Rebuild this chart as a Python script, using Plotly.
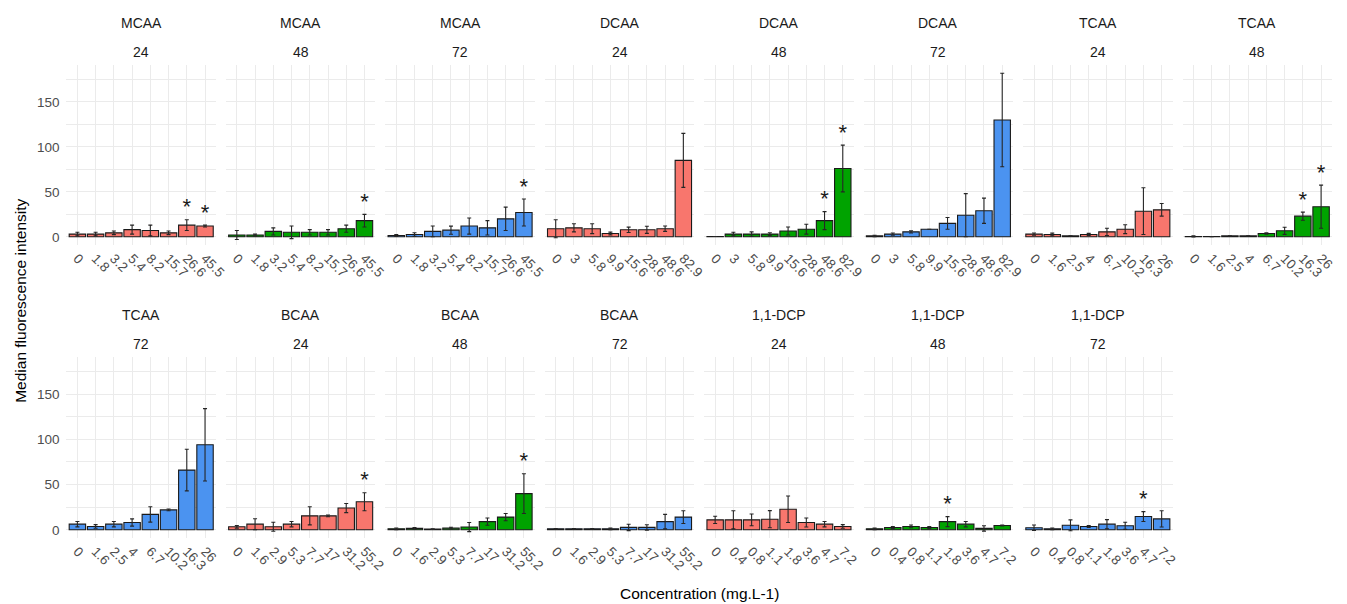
import plotly.graph_objects as go

# Concentration levels (mg.L-1) tested for each compound
MCAA_CONC = ["0", "1.8", "3.2", "5.4", "8.2", "15.7", "26.6", "45.5"]
DCAA_CONC = ["0", "3", "5.8", "9.9", "15.6", "28.6", "48.6", "82.9"]
TCAA_CONC = ["0", "1.6", "2.5", "4", "6.7", "10.2", "16.3", "26"]
BCAA_CONC = ["0", "1.6", "2.9", "5.3", "7.7", "17", "31.2", "55.2"]
DCP_CONC = ["0", "0.4", "0.8", "1.1", "1.8", "3.6", "4.7", "7.2"]

# Median fluorescence intensity, error half-width and significance flags
MCAA_24 = [3, 3, 4.4, 8, 7, 4.4, 13, 12]
MCAA_24_ERR = [2, 2, 2, 5, 6, 2, 6, 1]
MCAA_24_SIG = [0, 0, 0, 0, 0, 0, 1, 1]
MCAA_48 = [2, 2, 6, 5, 5, 5, 9, 18]
MCAA_48_ERR = [5, 1, 4, 7, 3, 3, 4, 7]
MCAA_48_SIG = [0, 0, 0, 0, 0, 0, 0, 1]
MCAA_72 = [1.5, 2.6, 6, 7.4, 12, 10, 20, 27]
MCAA_72_ERR = [1, 2, 6, 4.5, 9, 8, 13, 15]
MCAA_72_SIG = [0, 0, 0, 0, 0, 0, 0, 1]

DCAA_24 = [9, 10, 9, 3.7, 7.8, 7.8, 9, 85]
DCAA_24_ERR = [10, 4.5, 5.5, 1.5, 3, 4, 3, 30]
DCAA_24_SIG = [0, 0, 0, 0, 0, 0, 0, 0]
DCAA_48 = [0.3, 3, 3, 3, 6.5, 8.5, 18, 76]
DCAA_48_ERR = [0, 2, 2.5, 1.5, 4.5, 5.5, 10, 26]
DCAA_48_SIG = [0, 0, 0, 0, 0, 0, 1, 1]
DCAA_72 = [1, 3, 5.5, 8.5, 15, 24, 29, 130]
DCAA_72_ERR = [0.8, 1.2, 1.2, 0, 6.5, 24, 14, 52]
DCAA_72_SIG = [0, 0, 0, 0, 0, 0, 0, 1]

TCAA_24 = [3, 2.6, 1, 2.6, 5.5, 8.5, 28.5, 30]
TCAA_24_ERR = [1.2, 1.5, 0, 1.2, 4, 5, 26, 7]
TCAA_24_SIG = [0, 0, 0, 0, 0, 0, 0, 0]
TCAA_48 = [0.4, 0.2, 1, 1, 3.7, 6.7, 23, 33.5]
TCAA_48_ERR = [0.6, 0, 0, 0, 0.8, 4, 4.5, 24]
TCAA_48_SIG = [0, 0, 0, 0, 0, 0, 1, 1]
TCAA_72 = [6.2, 3.7, 6.2, 8, 17, 22, 66, 94]
TCAA_72_ERR = [3, 2, 3, 4, 8.5, 1, 23, 40]
TCAA_72_SIG = [0, 0, 0, 0, 0, 0, 0, 0]

BCAA_24 = [3.3, 6.2, 3.3, 6.2, 15.4, 15.4, 24, 31]
BCAA_24_ERR = [1.5, 6, 5, 3, 10, 1, 5, 10]
BCAA_24_SIG = [0, 0, 0, 0, 0, 0, 0, 1]
BCAA_48 = [1, 1.5, 0.7, 1.8, 3, 9, 14, 40]
BCAA_48_ERR = [1, 1, 0.3, 1, 5, 4, 4, 22]
BCAA_48_SIG = [0, 0, 0, 0, 0, 0, 0, 1]
BCAA_72 = [1, 1, 1, 1, 2.6, 2.6, 9, 14]
BCAA_72_ERR = [0.3, 0.3, 0.3, 0.8, 3.5, 3, 8, 7]
BCAA_72_SIG = [0, 0, 0, 0, 0, 0, 0, 0]

DCP_24 = [11, 11, 11, 11.7, 22.7, 8, 6.2, 3.7]
DCP_24_ERR = [4, 10, 6.5, 9.5, 14.6, 5, 3, 2]
DCP_24_SIG = [0, 0, 0, 0, 0, 0, 0, 0]
DCP_48 = [1, 2.5, 3.7, 2.5, 9, 6.2, 1.5, 4.8]
DCP_48_ERR = [0.8, 1.2, 1.5, 1.2, 5.5, 3, 3, 0.5]
DCP_48_SIG = [0, 0, 0, 0, 1, 0, 0, 0]
DCP_72 = [2.2, 1, 5, 3.7, 6.2, 4.4, 14.6, 12]
DCP_72_ERR = [3, 1, 6, 1, 5, 4, 5.5, 9]
DCP_72_SIG = [0, 0, 0, 0, 0, 0, 1, 0]

TIME_COLORS = {"24": "#F8766D", "48": "#00A300", "72": "#4B93F0"}

# Facet order: compound, exposure time, x labels, values, errors, flags
panels = [
    ("MCAA", "24", MCAA_CONC, MCAA_24, MCAA_24_ERR, MCAA_24_SIG),
    ("MCAA", "48", MCAA_CONC, MCAA_48, MCAA_48_ERR, MCAA_48_SIG),
    ("MCAA", "72", MCAA_CONC, MCAA_72, MCAA_72_ERR, MCAA_72_SIG),
    ("DCAA", "24", DCAA_CONC, DCAA_24, DCAA_24_ERR, DCAA_24_SIG),
    ("DCAA", "48", DCAA_CONC, DCAA_48, DCAA_48_ERR, DCAA_48_SIG),
    ("DCAA", "72", DCAA_CONC, DCAA_72, DCAA_72_ERR, DCAA_72_SIG),
    ("TCAA", "24", TCAA_CONC, TCAA_24, TCAA_24_ERR, TCAA_24_SIG),
    ("TCAA", "48", TCAA_CONC, TCAA_48, TCAA_48_ERR, TCAA_48_SIG),
    ("TCAA", "72", TCAA_CONC, TCAA_72, TCAA_72_ERR, TCAA_72_SIG),
    ("BCAA", "24", BCAA_CONC, BCAA_24, BCAA_24_ERR, BCAA_24_SIG),
    ("BCAA", "48", BCAA_CONC, BCAA_48, BCAA_48_ERR, BCAA_48_SIG),
    ("BCAA", "72", BCAA_CONC, BCAA_72, BCAA_72_ERR, BCAA_72_SIG),
    ("1,1-DCP", "24", DCP_CONC, DCP_24, DCP_24_ERR, DCP_24_SIG),
    ("1,1-DCP", "48", DCP_CONC, DCP_48, DCP_48_ERR, DCP_48_SIG),
    ("1,1-DCP", "72", DCP_CONC, DCP_72, DCP_72_ERR, DCP_72_SIG),
]

W, H = 1347, 604
N_COLS = 8
PANEL_LEFT = 67
PANEL_W = 150.75
PANEL_STEP = 160.75
ROW_PX = [(65, 245), (357, 538)]     # top / bottom pixel edge of each row
Y_RANGE = [-9.1, 191.1]
STAR_OFFSET = 12

FONT = "Liberation Sans, Arial, sans-serif"
GRID = "#EBEBEB"
TICK_FONT = dict(family=FONT, size=13.5, color="#4D4D4D")

fig = go.Figure()
layout_axes = {}
annotations = []

for i, (compound, time, conc, vals, errs, sig) in enumerate(panels):
    row, col = divmod(i, N_COLS)
    n = i + 1
    xa = "x" if n == 1 else f"x{n}"
    ya = "y" if n == 1 else f"y{n}"
    color = TIME_COLORS[time]

    fig.add_trace(go.Bar(
        x=conc, y=vals, xaxis=xa, yaxis=ya,
        marker=dict(color=color, line=dict(color="#1A1A1A", width=1.1)),
        error_y=dict(type="data", array=errs, visible=True,
                     color="#262626", thickness=1.1, width=2),
        showlegend=False, hoverinfo="x+y",
    ))

    star_x = [c for c, s in zip(conc, sig) if s]
    star_y = [v + e + STAR_OFFSET for v, e, s in zip(vals, errs, sig) if s]
    if star_x:
        fig.add_trace(go.Scatter(
            x=star_x, y=star_y, xaxis=xa, yaxis=ya, mode="text",
            text=["*"] * len(star_x), textposition="middle center",
            textfont=dict(family=FONT, size=22, color="#1A1A1A"),
            showlegend=False, hoverinfo="skip",
        ))

    x0 = (PANEL_LEFT + col * PANEL_STEP) / W
    x1 = (PANEL_LEFT + col * PANEL_STEP + PANEL_W) / W
    top_px, bot_px = ROW_PX[row]
    y0 = 1 - bot_px / H
    y1 = 1 - top_px / H

    key_x = "xaxis" if n == 1 else f"xaxis{n}"
    key_y = "yaxis" if n == 1 else f"yaxis{n}"
    layout_axes[key_x] = dict(
        domain=[x0, x1], anchor=ya, type="category",
        categoryorder="array", categoryarray=conc,
        range=[-0.6, len(conc) - 0.4],
        showgrid=True, gridcolor=GRID, gridwidth=1.2,
        showline=False, zeroline=False, ticks="",
        tickangle=45, tickfont=TICK_FONT, ticklabelstandoff=2,
        fixedrange=True,
    )
    layout_axes[key_y] = dict(
        domain=[y0, y1], anchor=xa, range=Y_RANGE,
        tick0=0, dtick=50,
        showgrid=True, gridcolor=GRID, gridwidth=1.2,
        minor=dict(dtick=25, tick0=0, showgrid=True, gridcolor=GRID, gridwidth=1),
        showline=False, zeroline=False, ticks="",
        showticklabels=(col == 0), ticklabelstandoff=6,
        tickfont=TICK_FONT,
        fixedrange=True,
    )

    cx = (x0 + x1) / 2
    strip_top = 23 if row == 0 else 315
    for text, ypx in ((compound, strip_top), (time, strip_top + 29)):
        annotations.append(dict(
            text=text, x=cx, y=1 - ypx / H, xref="paper", yref="paper",
            xanchor="center", yanchor="middle", showarrow=False,
            font=dict(family=FONT, size=14, color="#1A1A1A"),
        ))

annotations.append(dict(
    text="Concentration (mg.L-1)",
    x=(PANEL_LEFT + (N_COLS - 1) * PANEL_STEP + PANEL_W + PANEL_LEFT) / 2 / W,
    y=1 - 593 / H, xref="paper", yref="paper", xanchor="center", yanchor="middle",
    showarrow=False, font=dict(family=FONT, size=15.5, color="#000000"),
))
annotations.append(dict(
    text="Median fluorescence intensity", x=20 / W, y=1 - 301 / H,
    xref="paper", yref="paper", xanchor="center", yanchor="middle",
    textangle=-90, showarrow=False,
    font=dict(family=FONT, size=15.5, color="#000000"),
))

fig.update_layout(
    width=W, height=H,
    margin=dict(l=0, r=0, t=0, b=0),
    paper_bgcolor="white", plot_bgcolor="white",
    bargap=0.1, showlegend=False,
    annotations=annotations,
    **layout_axes,
)

fig.write_html("out.html")
